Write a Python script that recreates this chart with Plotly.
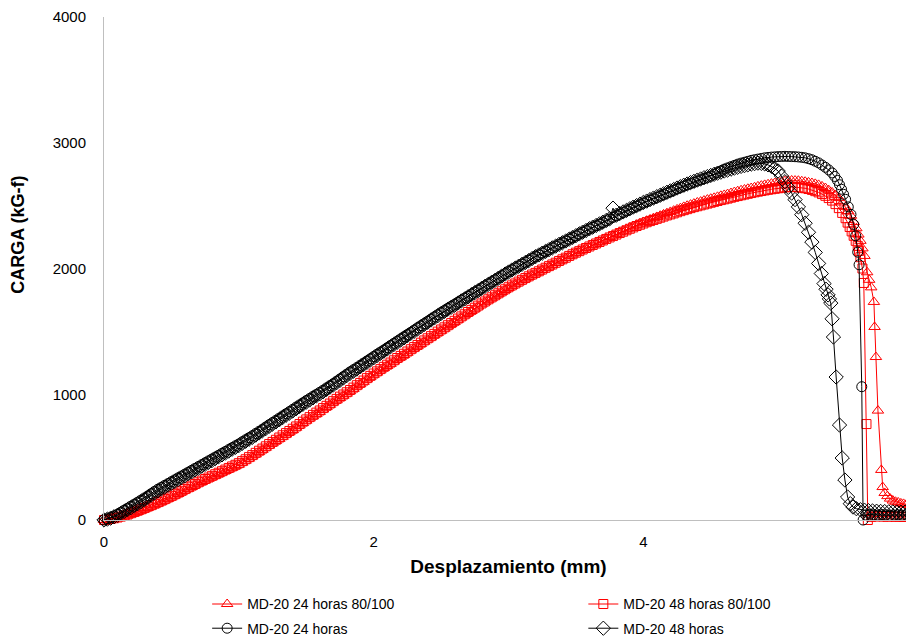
import plotly.graph_objects as go

# Common displacement grid for the rising branch (mm), 0.000 .. 4.975
x_rise = [0.000, 0.025, 0.050, 0.075, 0.100, 0.125, 0.150, 0.175, 0.200, 0.225,
          0.250, 0.275, 0.300, 0.325, 0.350, 0.375, 0.400, 0.425, 0.450, 0.475,
          0.500, 0.525, 0.550, 0.575, 0.600, 0.625, 0.650, 0.675, 0.700, 0.725,
          0.750, 0.775, 0.800, 0.825, 0.850, 0.875, 0.900, 0.925, 0.950, 0.975,
          1.000, 1.025, 1.050, 1.075, 1.100, 1.125, 1.150, 1.175, 1.200, 1.225,
          1.250, 1.275, 1.300, 1.325, 1.350, 1.375, 1.400, 1.425, 1.450, 1.475,
          1.500, 1.525, 1.550, 1.575, 1.600, 1.625, 1.650, 1.675, 1.700, 1.725,
          1.750, 1.775, 1.800, 1.825, 1.850, 1.875, 1.900, 1.925, 1.950, 1.975,
          2.000, 2.025, 2.050, 2.075, 2.100, 2.125, 2.150, 2.175, 2.200, 2.225,
          2.250, 2.275, 2.300, 2.325, 2.350, 2.375, 2.400, 2.425, 2.450, 2.475,
          2.500, 2.525, 2.550, 2.575, 2.600, 2.625, 2.650, 2.675, 2.700, 2.725,
          2.750, 2.775, 2.800, 2.825, 2.850, 2.875, 2.900, 2.925, 2.950, 2.975,
          3.000, 3.025, 3.050, 3.075, 3.100, 3.125, 3.150, 3.175, 3.200, 3.225,
          3.250, 3.275, 3.300, 3.325, 3.350, 3.375, 3.400, 3.425, 3.450, 3.475,
          3.500, 3.525, 3.550, 3.575, 3.600, 3.625, 3.650, 3.675, 3.700, 3.725,
          3.750, 3.775, 3.800, 3.825, 3.850, 3.875, 3.900, 3.925, 3.950, 3.975,
          4.000, 4.025, 4.050, 4.075, 4.100, 4.125, 4.150, 4.175, 4.200, 4.225,
          4.250, 4.275, 4.300, 4.325, 4.350, 4.375, 4.400, 4.425, 4.450, 4.475,
          4.500, 4.525, 4.550, 4.575, 4.600, 4.625, 4.650, 4.675, 4.700, 4.725,
          4.750, 4.775, 4.800, 4.825, 4.850, 4.875, 4.900, 4.925, 4.950, 4.975]

# MD-20 24 horas 80/100 (red triangles), load in kG-f
t24_rise = [0, 3, 6, 10, 15, 21, 28, 36, 45, 54,
            64, 74, 85, 96, 107, 118, 130, 142, 155, 168,
            180, 194, 207, 221, 235, 248, 262, 276, 290, 302,
            315, 328, 340, 352, 365, 378, 390, 402, 415, 428,
            440, 456, 472, 488, 505, 522, 540, 558, 575, 592,
            610, 628, 645, 662, 680, 698, 715, 734, 752, 771,
            790, 808, 825, 842, 860, 879, 898, 916, 935, 952,
            970, 988, 1005, 1024, 1043, 1062, 1080, 1099, 1118, 1136,
            1155, 1172, 1190, 1208, 1225, 1242, 1260, 1278, 1295, 1312,
            1330, 1348, 1365, 1382, 1400, 1418, 1435, 1452, 1470, 1488,
            1505, 1522, 1540, 1558, 1575, 1592, 1610, 1628, 1645, 1662,
            1680, 1698, 1715, 1732, 1748, 1764, 1780, 1796, 1813, 1829,
            1845, 1860, 1875, 1890, 1905, 1919, 1933, 1946, 1960, 1974,
            1988, 2002, 2015, 2029, 2043, 2056, 2070, 2084, 2098, 2112,
            2125, 2138, 2150, 2162, 2175, 2188, 2200, 2212, 2225, 2238,
            2250, 2262, 2275, 2288, 2300, 2312, 2325, 2336, 2348, 2359,
            2370, 2380, 2390, 2400, 2410, 2420, 2430, 2440, 2450, 2460,
            2470, 2480, 2490, 2499, 2508, 2516, 2525, 2532, 2540, 2548,
            2555, 2562, 2570, 2578, 2585, 2592, 2600, 2608, 2615, 2622,
            2628, 2634, 2640, 2646, 2653, 2659, 2665, 2670, 2675, 2680]
t24_fall_x = [5.000, 5.025, 5.050, 5.075, 5.100, 5.125, 5.150, 5.175, 5.200, 5.225,
              5.250, 5.275, 5.300, 5.325, 5.350, 5.375, 5.400, 5.425, 5.450, 5.475,
              5.500, 5.520, 5.540, 5.560, 5.580, 5.595, 5.610, 5.625, 5.640, 5.660,
              5.675, 5.690, 5.710, 5.715, 5.725, 5.740, 5.765, 5.775, 5.790, 5.810,
              5.830, 5.850, 5.870, 5.890, 5.910, 5.930, 5.950, 5.970, 5.990, 6.010]
t24_fall_y = [2685, 2690, 2695, 2698, 2700, 2699, 2698, 2694, 2690, 2685,
              2680, 2673, 2665, 2653, 2640, 2623, 2605, 2583, 2560, 2525,
              2490, 2455, 2420, 2370, 2320, 2270, 2220, 2160, 2100, 1970,
              1910, 1850, 1734, 1535, 1296, 870, 398, 262, 215, 190,
              170, 155, 145, 140, 132, 128, 122, 118, 112, 108]

# MD-20 48 horas 80/100 (red squares)
s48_rise = [0, 4, 8, 14, 20, 27, 35, 44, 54, 64,
            74, 85, 96, 107, 118, 130, 142, 154, 166, 179,
            192, 205, 218, 232, 246, 260, 273, 286, 300, 313,
            326, 338, 351, 364, 376, 388, 401, 414, 426, 439,
            452, 468, 483, 500, 516, 534, 551, 568, 586, 604,
            621, 638, 656, 674, 691, 708, 726, 744, 763, 782,
            800, 818, 836, 854, 871, 890, 908, 926, 945, 963,
            981, 998, 1016, 1034, 1053, 1072, 1090, 1109, 1128, 1146,
            1165, 1182, 1200, 1218, 1235, 1252, 1270, 1288, 1305, 1322,
            1340, 1358, 1375, 1392, 1410, 1428, 1445, 1462, 1480, 1498,
            1515, 1532, 1549, 1566, 1584, 1602, 1619, 1636, 1654, 1671,
            1688, 1705, 1722, 1738, 1755, 1771, 1787, 1803, 1819, 1835,
            1851, 1866, 1881, 1896, 1910, 1924, 1938, 1952, 1965, 1978,
            1992, 2006, 2019, 2032, 2046, 2060, 2073, 2086, 2100, 2113,
            2126, 2138, 2151, 2163, 2175, 2187, 2199, 2211, 2223, 2235,
            2247, 2258, 2270, 2282, 2293, 2304, 2316, 2327, 2338, 2348,
            2358, 2368, 2377, 2386, 2395, 2404, 2413, 2422, 2430, 2438,
            2447, 2456, 2464, 2472, 2480, 2488, 2495, 2502, 2509, 2516,
            2523, 2530, 2537, 2544, 2550, 2556, 2563, 2570, 2576, 2582,
            2588, 2594, 2600, 2606, 2611, 2616, 2621, 2626, 2630, 2634]
s48_fall_x = [5.000, 5.025, 5.050, 5.075, 5.100, 5.125, 5.150, 5.175, 5.200, 5.225,
              5.250, 5.275, 5.300, 5.325, 5.350, 5.375, 5.400, 5.425, 5.450, 5.475,
              5.500, 5.515, 5.530, 5.545, 5.560, 5.575, 5.590, 5.600, 5.610, 5.625,
              5.635, 5.655, 5.665, 5.690, 5.720, 5.750, 5.780, 5.810, 5.840, 5.870,
              5.900, 5.930, 5.960, 5.990, 6.020]
s48_fall_y = [2638, 2642, 2645, 2647, 2648, 2647, 2645, 2642, 2638, 2632,
              2625, 2615, 2605, 2592, 2578, 2560, 2540, 2512, 2480, 2442,
              2400, 2365, 2330, 2295, 2260, 2220, 2180, 2140, 2090, 2000,
              1885, 763, 0, 25, 28, 30, 27, 26, 29, 25,
              27, 24, 26, 25, 23]

# MD-20 24 horas (black circles)
c24_rise = [0, 10, 20, 32, 45, 62, 78, 94, 110, 126,
            142, 158, 175, 192, 210, 228, 245, 260, 275, 290,
            305, 320, 335, 350, 365, 380, 395, 410, 425, 440,
            455, 470, 485, 500, 515, 530, 545, 560, 575, 590,
            605, 622, 638, 654, 670, 688, 705, 722, 740, 758,
            775, 792, 810, 828, 845, 862, 880, 898, 915, 932,
            950, 966, 983, 999, 1015, 1032, 1050, 1068, 1085, 1104,
            1122, 1141, 1160, 1178, 1195, 1212, 1230, 1248, 1265, 1282,
            1300, 1318, 1335, 1352, 1370, 1388, 1405, 1422, 1440, 1458,
            1475, 1492, 1510, 1528, 1545, 1562, 1580, 1598, 1615, 1632,
            1650, 1666, 1683, 1699, 1715, 1732, 1748, 1764, 1780, 1796,
            1813, 1829, 1845, 1862, 1878, 1894, 1910, 1926, 1943, 1959,
            1975, 1990, 2005, 2020, 2035, 2050, 2065, 2080, 2095, 2109,
            2123, 2136, 2150, 2164, 2178, 2192, 2205, 2219, 2233, 2246,
            2260, 2274, 2288, 2302, 2315, 2328, 2340, 2352, 2365, 2379,
            2393, 2406, 2420, 2432, 2445, 2458, 2470, 2482, 2495, 2508,
            2520, 2532, 2543, 2554, 2565, 2576, 2588, 2599, 2610, 2622,
            2633, 2644, 2655, 2665, 2675, 2685, 2695, 2705, 2715, 2725,
            2735, 2749, 2763, 2776, 2790, 2800, 2810, 2820, 2830, 2838,
            2845, 2852, 2860, 2865, 2870, 2875, 2880, 2883, 2886, 2888]
c24_fall_x = [5.000, 5.025, 5.050, 5.075, 5.100, 5.125, 5.150, 5.175, 5.200, 5.225,
              5.250, 5.275, 5.300, 5.325, 5.350, 5.375, 5.400, 5.420, 5.440, 5.455,
              5.470, 5.485, 5.500, 5.520, 5.540, 5.560, 5.575, 5.590, 5.600, 5.620,
              5.630, 5.650, 5.680, 5.710, 5.740, 5.770, 5.800, 5.830, 5.860, 5.890,
              5.920, 5.950, 5.980, 6.010]
c24_fall_y = [2890, 2891, 2892, 2891, 2890, 2889, 2887, 2884, 2880, 2873,
              2865, 2853, 2840, 2823, 2805, 2784, 2760, 2732, 2700, 2666,
              2630, 2590, 2550, 2490, 2430, 2350, 2260, 2130, 2030, 1060,
              0, 40, 45, 42, 40, 43, 41, 38, 40, 42,
              39, 40, 38, 37]

# MD-20 48 horas (black diamonds)
d48_rise = [0, 7, 15, 26, 38, 53, 68, 83, 98, 114,
            130, 146, 162, 180, 198, 215, 232, 247, 262, 277,
            292, 307, 322, 337, 352, 368, 383, 398, 412, 428,
            443, 458, 472, 488, 503, 518, 532, 548, 563, 578,
            592, 609, 626, 642, 657, 675, 692, 710, 727, 745,
            763, 780, 797, 815, 833, 850, 867, 885, 903, 920,
            937, 954, 971, 987, 1003, 1020, 1038, 1056, 1073, 1092,
            1110, 1129, 1148, 1166, 1183, 1200, 1218, 1236, 1254, 1272,
            1290, 1308, 1325, 1342, 1360, 1378, 1396, 1414, 1431, 1448,
            1466, 1484, 1501, 1519, 1537, 1555, 1572, 1590, 1607, 1624,
            1642, 1659, 1676, 1692, 1708, 1725, 1742, 1758, 1775, 1792,
            1808, 1824, 1841, 1858, 1874, 1890, 1906, 1923, 1940, 1956,
            1972, 1988, 2003, 2018, 2033, 2048, 2063, 2079, 2094, 2108,
            2122, 2136, 2150, 2164, 2178, 2192, 2205, 2219, 2233, 2247,
            2261, 2275, 2289, 2302, 2316, 2329, 2342, 2355, 2368, 2382,
            2395, 2480, 2424, 2437, 2450, 2462, 2475, 2488, 2500, 2512,
            2525, 2536, 2548, 2560, 2571, 2582, 2594, 2606, 2617, 2628,
            2640, 2651, 2662, 2672, 2683, 2693, 2703, 2712, 2722, 2731,
            2740, 2749, 2758, 2766, 2775, 2782, 2790, 2798, 2805, 2812,
            2818, 2824, 2830, 2834, 2838, 2836, 2832, 2824, 2812, 2795]
d48_fall_x = [5.000, 5.025, 5.050, 5.075, 5.100, 5.125, 5.150, 5.175, 5.200, 5.225,
              5.250, 5.275, 5.300, 5.320, 5.340, 5.355, 5.370, 5.380, 5.390, 5.400,
              5.410, 5.430, 5.455, 5.475, 5.495, 5.515, 5.535, 5.555, 5.580, 5.610,
              5.640, 5.670, 5.700, 5.730, 5.760, 5.790, 5.820, 5.850, 5.880, 5.910,
              5.940, 5.970, 6.000]
d48_fall_y = [2775, 2735, 2690, 2645, 2600, 2548, 2490, 2428, 2360, 2288,
              2210, 2128, 2040, 1960, 1880, 1835, 1790, 1758, 1725, 1600,
              1455, 1137, 755, 493, 318, 183, 130, 103, 90, 82,
              78, 74, 72, 70, 68, 67, 65, 64, 63, 62,
              62, 61, 60]

series = [
    ("MD-20 24 horas 80/100", t24_rise, t24_fall_x, t24_fall_y, "#FF0000", "triangle-up-open", 10, "legend"),
    ("MD-20 48 horas 80/100", s48_rise, s48_fall_x, s48_fall_y, "#FF0000", "square-open", 9, "legend2"),
    ("MD-20 24 horas", c24_rise, c24_fall_x, c24_fall_y, "#000000", "circle-open", 10, "legend"),
    ("MD-20 48 horas", d48_rise, d48_fall_x, d48_fall_y, "#000000", "diamond-open", 11, "legend2"),
]

FONT = "Liberation Sans, Arial, sans-serif"

fig = go.Figure()
for name, yr, fx, fy, col, sym, sz, leg in series:
    fig.add_trace(go.Scatter(
        x=x_rise + fx, y=yr + fy, name=name, mode="lines+markers",
        line=dict(color=col, width=1),
        marker=dict(symbol=sym, size=sz, color=col, line=dict(color=col, width=1)),
        cliponaxis=False, legend=leg, legendgroup=name,
    ))

legend_common = dict(orientation="v", y=-0.136, yanchor="top", xanchor="left",
                     tracegroupgap=3, font=dict(family=FONT, size=14, color="black"),
                     bgcolor="rgba(0,0,0,0)")

fig.update_layout(
    width=906, height=628,
    margin=dict(l=96, r=1, t=9, b=116, autoexpand=False),
    paper_bgcolor="white", plot_bgcolor="white",
    font=dict(family=FONT, color="black", size=15),
    showlegend=True,
    legend=dict(x=0.1275, **legend_common),
    legend2=dict(x=0.5925, **legend_common),
    xaxis=dict(range=[0, 6], tickvals=[0, 2, 4, 6], ticktext=["0", "2", "4", "6"],
               showgrid=False, zeroline=False, showline=True, linecolor="#BFBFBF", linewidth=1,
               ticks="", ticklabelstandoff=8, ticklabeloverflow="allow",
               tickfont=dict(family=FONT, size=15, color="black"),
               title=dict(text="<b>Desplazamiento (mm)</b>", standoff=10,
                          font=dict(family=FONT, size=19, color="black"))),
    yaxis=dict(range=[0, 4000], tickvals=[0, 1000, 2000, 3000, 4000],
               showgrid=False, zeroline=False, showline=True, linecolor="#BFBFBF", linewidth=1,
               ticks="", ticklabelstandoff=14,
               tickfont=dict(family=FONT, size=15, color="black")),
    annotations=[dict(text="<b>CARGA (kG-f)</b>", textangle=-90, showarrow=False,
                      xref="paper", x=0, xanchor="center", xshift=-86,
                      yref="paper", y=0.567, yanchor="middle",
                      font=dict(family=FONT, size=18, color="black"))],
)

fig.write_html("out.html")
